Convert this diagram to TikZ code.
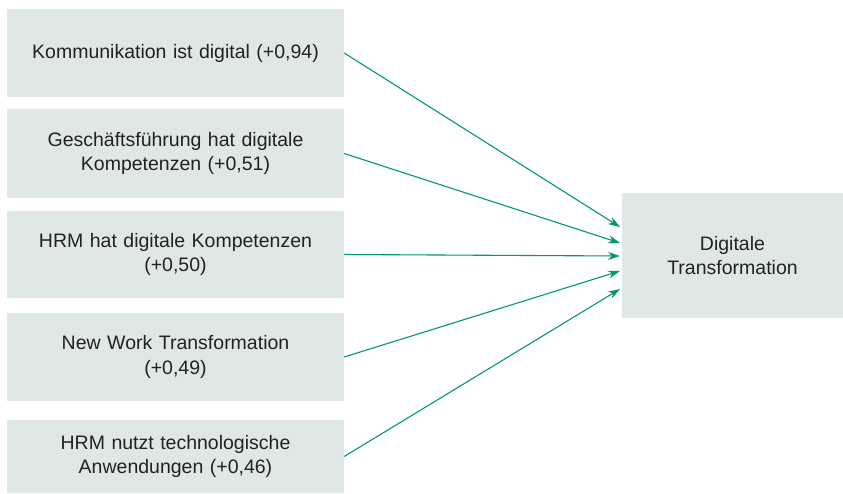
\documentclass[tikz,border=0pt]{standalone}
\usepackage{fontspec}
\setmainfont{Liberation Sans}
\usetikzlibrary{arrows.meta}
\definecolor{boxfill}{HTML}{E0E8E6}
\definecolor{arrowgreen}{HTML}{009A68}
\definecolor{txt}{HTML}{222222}
\tikzset{
  srcbox/.style={fill=boxfill, draw=none, minimum width=337pt, text width=330pt, align=center, inner sep=0pt, font=\fontsize{19.5}{24.5}\selectfont, text=txt},
  tgtbox/.style={fill=boxfill, draw=none, minimum width=221pt, minimum height=125pt, text width=210pt, align=center, inner sep=0pt, font=\fontsize{19.5}{24.5}\selectfont, text=txt},
  conn/.style={draw=arrowgreen, line width=1.1pt, -{Stealth[length=12pt,width=8pt]}}
}
\begin{document}
\begin{tikzpicture}[x=1pt,y=-1pt]
\useasboundingbox (0,0) rectangle (843,494);
\node[srcbox, minimum height=88pt] (b1) at (175.5,53) {Kommunikation ist digital (+0,94)};
\node[srcbox, minimum height=89pt] (b2) at (175.5,153.5) {Geschäftsführung hat digitale\\Kompetenzen (+0,51)};
\node[srcbox, minimum height=87pt] (b3) at (175.5,254.5) {HRM hat digitale Kompetenzen\\(+0,50)};
\node[srcbox, minimum height=88pt] (b4) at (175.5,357) {New Work Transformation\\(+0,49)};
\node[srcbox, minimum height=73pt] (b5) at (175.5,456.5) {HRM nutzt technologische\\Anwendungen (+0,46)};
\node[tgtbox] (t) at (732.5,255.5) {Digitale\\Transformation};
\coordinate (e1) at (620,227);
\coordinate (e2) at (620,243);
\coordinate (e3) at (620,256);
\coordinate (e4) at (620,271);
\coordinate (e5) at (620,289);
\draw[conn] (b1.east) -- (e1);
\draw[conn] (b2.east) -- (e2);
\draw[conn] (b3.east) -- (e3);
\draw[conn] (b4.east) -- (e4);
\draw[conn] (b5.east) -- (e5);
\end{tikzpicture}
\end{document}
